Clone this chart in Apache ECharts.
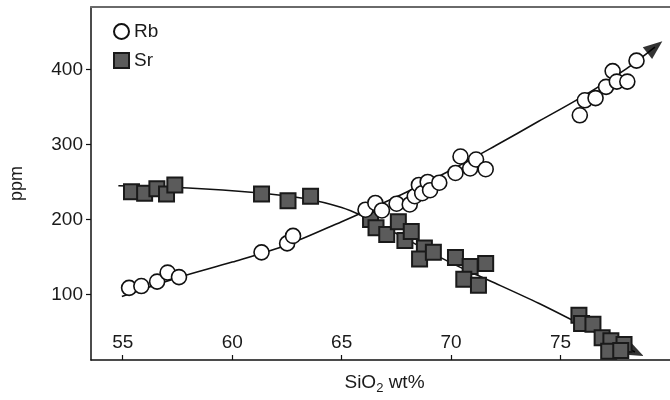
<!DOCTYPE html>
<html>
<head>
<meta charset="utf-8">
<script src="https://cdn.jsdelivr.net/npm/echarts@6/dist/echarts.min.js"></script>
<style>
html,body{margin:0;padding:0;background:#fff;}
#c{width:670px;height:400px;}
</style>
</head>
<body>
<div id="c"></div>
<script>
// Tick labels
var xTicks = [55, 60, 65, 70, 75];
var yTicks = [100, 200, 300, 400];

// Rb samples [SiO2 wt%, ppm]
var rbPoints = [
  [55.29,108.6],[55.85,111],[56.57,117],[57.05,129],[57.57,123],
  [61.34,156],[62.51,168],[62.78,178],
  [66.09,213],[66.54,222],[66.84,212],[67.51,221],[68.11,220],[68.34,231],
  [68.53,246],[68.68,235],[68.93,250],[69.04,239],[69.46,249],[70.2,262],
  [70.43,284],[70.87,268],[71.14,280],[71.58,267],
  [75.88,339],[76.11,359],[76.6,362],[77.08,377],[77.38,398],[77.57,384],[78.05,384],[78.47,412]
];

// Sr samples [SiO2 wt%, ppm]
var srPoints = [
  [55.4,237],[56.0,235],[56.56,241],[57.0,234],[57.38,246],
  [61.34,234],[62.55,225],[63.58,231],
  [66.32,200],[66.57,189],[67.06,180],[67.59,197],[67.89,172],[68.18,184],
  [68.78,162],[68.56,147],[69.19,156],[70.2,149],[70.87,137],[71.58,141],
  [70.58,120],[71.25,112],
  [75.84,72],[75.96,61],[76.48,60],[76.9,42],[77.3,38],[77.9,33],[77.2,24],[77.75,25]
];

// Trend curves
var rbTrend = [
  [54.96,97],[57.5,122],[60,143],[62.5,166],[65,197],[66,210],[68,237],
  [70,266],[72,298],[74,331],[76,364],[78,401],[79.31,430]
];
var srTrend = [
  [54.8,245],[58,242],[61,236],[63.3,228],[65,216],[66,204],[67,189],[68,173],
  [69,157],[70,142],[71,128],[72,115],[74,88],[75.7,63],[77,43],[78.4,23]
];

// Arrow heads at trend ends
var rbArrow = [[79.31,430]];
var srArrow = [[78.4,23]];

var FONT = '"Liberation Sans", Arial, Helvetica, sans-serif';
var chart = echarts.init(document.getElementById('c'), null, {renderer:'canvas'});

var xMin = 53.55, xMax = 80.0, yMin = 12.3, yMax = 483.6;

chart.setOption({
  animation: false,
  backgroundColor: '#fff',
  textStyle: {fontFamily: FONT},
  grid: {left: 82, right: 0, top: 7, bottom: 39, containLabel: false},
  legend: {
    data: ['Rb', 'Sr'],
    orient: 'vertical',
    left: 108, top: 17,
    itemWidth: 15, itemHeight: 15, itemGap: 10,
    textStyle: {fontFamily: FONT, fontSize: 19, color: '#1a1a1a'}
  },
  xAxis: [{
    type: 'value', min: xMin, max: xMax, position: 'bottom',
    name: '{a|SiO}{s|2}{a| wt%}', nameLocation: 'middle', nameGap: 11,
    nameTextStyle: {
      padding: [0, 0, 0, 8],
      rich: {
        a: {fontFamily: FONT, fontSize: 19, color: '#1a1a1a'},
        s: {fontFamily: FONT, fontSize: 13, color: '#1a1a1a', verticalAlign: 'bottom', padding: [11,0,0,0]}
      }
    },
    axisLine: {show: true, onZero: false, lineStyle: {color: '#111', width: 1.5}},
    axisTick: {show: true, inside: true, length: 5, customValues: xTicks, lineStyle: {color: '#111', width: 1.2}},
    axisLabel: {inside: true, customValues: xTicks, margin: 8, fontFamily: FONT, fontSize: 19, color: '#1a1a1a'},
    splitLine: {show: false}
  }, {
    type: 'value', min: xMin, max: xMax, position: 'top',
    axisLine: {show: true, onZero: false, lineStyle: {color: '#6a6a6a', width: 2}},
    axisTick: {show: false}, axisLabel: {show: false}, splitLine: {show: false}
  }],
  yAxis: [{
    type: 'value', min: yMin, max: yMax,
    name: 'ppm', nameLocation: 'middle', nameGap: 65, nameRotate: 90,
    nameTextStyle: {fontFamily: FONT, fontSize: 18, color: '#1a1a1a'},
    axisLine: {show: true, onZero: false, lineStyle: {color: '#111', width: 1.5}},
    axisTick: {show: true, inside: false, length: 5, customValues: yTicks, lineStyle: {color: '#111', width: 1.2}},
    axisLabel: {customValues: yTicks, margin: 8, fontFamily: FONT, fontSize: 19, color: '#1a1a1a'},
    splitLine: {show: false}
  }],
  series: [
    {type: 'line', data: srTrend, smooth: 0.3, symbol: 'none', silent: true,
     lineStyle: {color: '#111', width: 1.6}, z: 2},
    {type: 'line', data: rbTrend, smooth: 0.3, symbol: 'none', silent: true,
     lineStyle: {color: '#111', width: 1.6}, z: 2},
    {type: 'scatter', data: rbArrow, symbol: 'triangle', symbolSize: [15, 19], symbolRotate: -51.6,
     itemStyle: {color: '#000'}, z: 3},
    {type: 'scatter', data: srArrow, symbol: 'triangle', symbolSize: [15, 19], symbolRotate: -115.7,
     itemStyle: {color: '#000'}, z: 3},
    {name: 'Sr', type: 'scatter', data: srPoints, symbol: 'rect', symbolSize: 15,
     itemStyle: {color: '#5b5b5b', borderColor: '#1a1a1a', borderWidth: 2, opacity: 1}, z: 4},
    {name: 'Rb', type: 'scatter', data: rbPoints, symbol: 'circle', symbolSize: 15,
     itemStyle: {color: '#fff', borderColor: '#111', borderWidth: 1.6, opacity: 1}, z: 5}
  ]
});
</script>
</body>
</html>
